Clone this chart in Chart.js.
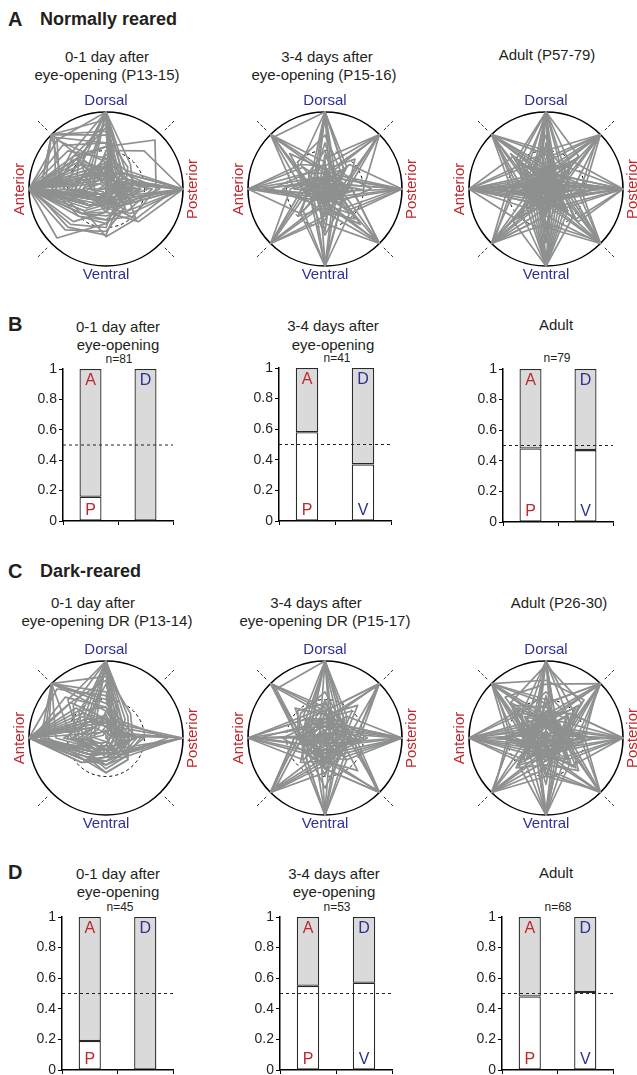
<!DOCTYPE html>
<html>
<head>
<meta charset="utf-8">
<script src="https://cdn.jsdelivr.net/npm/chart.js@4.4.0/dist/chart.umd.min.js"></script>
<style>
  html, body { margin: 0; padding: 0; background: #fff; }
  #page { position: relative; width: 637px; height: 1075px; overflow: hidden;
          font-family: "Liberation Sans", Arial, sans-serif; color: #231f20; }
  #page canvas { position: absolute; }
  .t { position: absolute; transform: translate(-50%, -50%); white-space: nowrap; font-size: 15px; line-height: 1; }
  .n { font-size: 12px; }
  .h { position: absolute; transform: translateY(-50%); white-space: nowrap; font-weight: bold; font-size: 18px; line-height: 1; }
  .hl { font-size: 20px; }
</style>
</head>
<body>
<div id="page">
  <div class="h hl" style="left:8px;top:19px">A</div>
  <div class="h" style="left:40px;top:19px">Normally reared</div>
  <div class="t" style="left:107px;top:56px">0-1 day after</div>
  <div class="t" style="left:107px;top:74px">eye-opening (P13-15)</div>
  <div class="t" style="left:327px;top:56px">3-4 days after</div>
  <div class="t" style="left:324px;top:74px">eye-opening (P15-16)</div>
  <div class="t" style="left:547px;top:54px">Adult (P57-79)</div>

  <div class="h hl" style="left:8px;top:324px">B</div>
  <div class="t" style="left:118px;top:326px">0-1 day after</div>
  <div class="t" style="left:118px;top:344px">eye-opening</div>
  <div class="t n" style="left:119px;top:359px">n=81</div>
  <div class="t" style="left:333px;top:325px">3-4 days after</div>
  <div class="t" style="left:333px;top:344px">eye-opening</div>
  <div class="t n" style="left:337px;top:358px">n=41</div>
  <div class="t" style="left:556px;top:324px">Adult</div>
  <div class="t n" style="left:557px;top:358px">n=79</div>

  <div class="h hl" style="left:8px;top:571px">C</div>
  <div class="h" style="left:40px;top:571px">Dark-reared</div>
  <div class="t" style="left:93px;top:602px">0-1 day after</div>
  <div class="t" style="left:107px;top:620px">eye-opening DR (P13-14)</div>
  <div class="t" style="left:316px;top:602px">3-4 days after</div>
  <div class="t" style="left:325px;top:620px">eye-opening DR (P15-17)</div>
  <div class="t" style="left:559px;top:602px">Adult (P26-30)</div>

  <div class="h hl" style="left:8px;top:872px">D</div>
  <div class="t" style="left:118px;top:873px">0-1 day after</div>
  <div class="t" style="left:118px;top:891px">eye-opening</div>
  <div class="t n" style="left:120px;top:907px">n=45</div>
  <div class="t" style="left:334px;top:873px">3-4 days after</div>
  <div class="t" style="left:334px;top:891px">eye-opening</div>
  <div class="t n" style="left:337px;top:907px">n=53</div>
  <div class="t" style="left:556px;top:872px">Adult</div>
  <div class="t n" style="left:558px;top:907px">n=68</div>
</div>
<script>
// directions clockwise from the top of each polar plot
const directions = ['Dorsal', 'DP', 'Posterior', 'PV', 'Ventral', 'VA', 'Anterior', 'AD'];

// normalised tuning curves [D, DP, P, PV, V, VA, A, AD]
const curvesA1 = [
  [1.0,0.20,0.15,0.10,0.15,0.20,0.70,0.65],
  [0.80,0.15,0.25,0.10,0.15,0.30,1.0,0.55],
  [0.30,0.10,1.0,0.30,0.20,0.10,0.40,0.35],
  [0.15,0.10,0.20,0.15,0.25,0.45,1.0,0.40],
  [0.90,0.25,0.10,0.05,0.10,0.15,0.55,1.0],
  [0.35,0.30,1.0,0.45,0.25,0.15,0.30,0.15],
  [0.10,0.05,0.15,0.10,0.30,0.60,1.0,0.35],
  [1.0,0.45,0.35,0.15,0.10,0.05,0.20,0.45],
  [0.55,0.90,0.65,0.50,0.40,0.45,0.65,0.60],
  [0.20,0.15,0.30,0.25,0.45,0.90,1.0,0.25],
  [0.60,0.15,0.10,0.10,0.15,0.30,1.0,0.80],
  [0.30,0.20,0.95,0.25,0.15,0.10,1.0,0.20],
  [1.0,0.10,0.05,0.05,0.05,0.10,0.40,0.50],
  [0.15,0.10,0.25,0.55,0.62,0.40,1.0,0.15],
  [0.40,0.15,1.0,0.20,0.10,0.10,0.50,0.30],
  [0.25,0.10,0.20,0.25,0.60,0.70,0.95,0.45],
  [0.70,0.40,0.25,0.15,0.20,0.30,0.85,1.0],
  [0.10,0.05,0.35,0.20,0.10,0.25,1.0,0.45],
  [1.0,0.35,0.45,0.20,0.10,0.15,0.30,0.25],
  [0.20,0.30,1.0,0.40,0.15,0.05,0.25,0.10],
  [0.35,0.15,0.15,0.35,0.55,0.75,1.0,0.30],
  [0.85,0.20,0.15,0.05,0.10,0.20,1.0,0.60],
  [0.15,0.10,0.40,0.25,0.20,0.15,0.80,1.0],
  [0.55,0.30,0.35,0.30,0.40,0.50,0.70,0.55],
  [0.30,0.15,0.90,0.55,0.20,0.15,1.0,0.25],
  [1.0,0.15,0.20,0.10,0.05,0.10,0.60,0.90],
  [0.05,0.05,0.30,0.15,0.15,0.35,1.0,0.55],
  [0.50,0.70,1.0,0.30,0.15,0.10,0.20,0.20],
  [0.25,0.10,0.15,0.10,0.20,0.30,1.0,0.15],
  [0.95,0.30,0.20,0.15,0.10,0.20,0.45,0.35],
  [0.20,0.20,1.0,0.15,0.10,0.15,0.35,0.30],
  [0.40,0.20,0.30,0.20,0.30,0.45,1.0,0.70],
  [1.0,0.30,0.05,0.00,0.05,0.10,0.55,0.50],
  [0.05,0.00,0.20,0.10,0.15,0.30,1.0,0.30],
  [0.10,0.15,1.0,0.20,0.05,0.00,0.10,0.05],
  [0.35,0.10,0.05,0.10,0.20,0.40,1.0,0.90],
  [0.00,0.10,0.45,0.30,0.25,0.20,1.0,0.10],
  [0.60,0.25,0.55,0.20,0.15,0.30,0.65,0.95],
  [0.20,0.05,0.10,0.35,0.45,0.50,1.0,0.50],
  [1.0,0.05,0.00,0.05,0.10,0.00,0.20,0.30],
  [0.15,0.30,0.70,0.30,0.25,0.20,1.0,0.35],
  [0.45,0.35,1.0,0.60,0.30,0.20,0.15,0.25],
  [0.10,0.10,0.25,0.20,0.50,0.65,1.0,0.20],
  [0.75,0.10,0.25,0.15,0.05,0.20,0.85,1.0],
  [0.25,0.15,0.60,0.40,0.35,0.45,1.0,0.55],
  [0.30,0.00,0.15,0.05,0.10,0.15,1.0,0.25]
];
const curvesA2 = [
  [1.0,0.15,0.10,0.05,0.25,0.10,0.15,0.25],
  [0.15,1.0,0.20,0.10,0.05,0.10,0.15,0.10],
  [0.15,0.25,1.0,0.15,0.10,0.05,0.30,0.10],
  [0.10,0.15,0.20,1.0,0.15,0.10,0.10,0.05],
  [0.30,0.10,0.10,0.20,1.0,0.20,0.10,0.05],
  [0.10,0.05,0.10,0.10,0.20,1.0,0.25,0.15],
  [0.20,0.10,0.45,0.15,0.10,0.15,1.0,0.30],
  [0.25,0.10,0.10,0.05,0.10,0.15,0.30,1.0],
  [1.0,0.35,0.10,0.10,0.55,0.15,0.10,0.20],
  [0.15,0.10,1.0,0.20,0.10,0.10,0.80,0.15],
  [0.45,0.20,0.10,0.15,1.0,0.25,0.10,0.10],
  [0.10,0.20,0.95,0.35,0.10,0.10,1.0,0.20],
  [0.20,0.95,0.25,0.10,0.10,0.20,0.15,0.10],
  [0.10,0.10,0.15,0.20,0.15,0.95,0.20,0.10],
  [0.10,0.15,0.10,0.95,0.20,0.15,0.10,0.20],
  [0.20,0.10,0.10,0.15,0.20,0.10,0.15,0.95],
  [1.0,0.20,0.30,0.15,0.10,0.05,0.40,0.15],
  [0.10,0.20,1.0,0.45,0.20,0.10,0.15,0.05],
  [0.20,0.10,0.20,0.30,1.0,0.45,0.20,0.10],
  [0.30,0.15,0.25,0.10,0.05,0.20,1.0,0.45],
  [0.30,1.0,0.50,0.10,0.05,0.10,0.20,0.30],
  [0.15,0.20,0.35,1.0,0.45,0.15,0.10,0.05],
  [0.10,0.05,0.15,0.20,0.40,1.0,0.45,0.20],
  [1.0,0.35,0.15,0.10,0.35,0.15,0.20,0.95],
  [0.05,0.10,0.05,0.10,0.15,0.10,1.0,0.10],
  [0.15,0.10,1.0,0.05,0.05,0.10,0.10,0.20],
  [0.95,0.10,0.20,0.05,0.10,0.20,0.30,0.15],
  [0.10,0.40,0.15,0.55,0.30,0.10,0.20,0.15],
  [0.60,0.20,0.15,0.10,0.05,0.25,0.55,0.20],
  [0.15,0.05,0.20,0.30,0.95,0.10,0.05,0.15],
  [1.0,0.40,0.05,0.00,0.10,0.00,0.05,0.45],
  [0.05,0.45,1.0,0.40,0.00,0.05,0.00,0.10],
  [0.00,0.05,0.10,0.45,1.0,0.40,0.05,0.00],
  [0.10,0.00,0.05,0.05,0.00,0.45,1.0,0.40],
  [0.40,1.0,0.30,0.00,0.05,0.00,0.10,0.00],
  [0.00,0.10,0.35,1.0,0.30,0.05,0.00,0.05],
  [0.05,0.00,0.10,0.00,0.35,1.0,0.30,0.10],
  [0.35,0.05,0.00,0.10,0.00,0.05,0.40,1.0],
  [0.70,0.30,0.60,0.25,0.15,0.20,0.30,0.50],
  [0.20,0.35,0.15,0.65,0.25,0.50,0.20,0.30],
  [0.50,0.20,0.25,0.30,0.60,0.25,0.70,0.30],
  [0.25,0.55,0.30,0.20,0.35,0.25,0.20,0.65]
];
const curvesA3 = [
  [1.0,0.10,0.05,0.15,0.30,0.10,0.05,0.20],
  [1.0,0.35,0.10,0.05,0.10,0.05,0.15,0.25],
  [1.0,0.15,0.20,0.10,0.70,0.15,0.10,0.10],
  [0.95,0.20,0.10,0.20,0.15,0.25,0.20,0.40],
  [1.0,0.05,0.25,0.10,0.05,0.10,0.30,0.15],
  [0.25,1.0,0.20,0.10,0.15,0.20,0.10,0.05],
  [0.40,1.0,0.35,0.15,0.10,0.45,0.15,0.10],
  [0.15,1.0,0.15,0.20,0.05,0.10,0.20,0.15],
  [0.20,0.95,0.45,0.10,0.20,0.15,0.05,0.25],
  [0.10,0.60,0.10,0.05,0.10,0.15,0.10,0.05],
  [0.15,0.25,1.0,0.20,0.10,0.05,0.20,0.10],
  [0.10,0.15,1.0,0.35,0.15,0.10,0.65,0.15],
  [0.20,0.10,1.0,0.15,0.25,0.15,0.10,0.20],
  [0.30,0.40,1.0,0.30,0.10,0.15,0.25,0.05],
  [0.05,0.15,0.95,0.20,0.15,0.25,0.15,0.10],
  [0.10,0.15,0.25,1.0,0.20,0.10,0.15,0.20],
  [0.15,0.10,0.40,1.0,0.35,0.15,0.10,0.45],
  [0.20,0.05,0.15,1.0,0.15,0.20,0.05,0.10],
  [0.10,0.20,0.20,0.95,0.45,0.10,0.15,0.15],
  [0.25,0.10,0.15,0.20,1.0,0.15,0.10,0.05],
  [0.60,0.15,0.10,0.30,1.0,0.25,0.15,0.10],
  [0.10,0.20,0.05,0.15,1.0,0.35,0.20,0.15],
  [0.15,0.10,0.20,0.10,0.95,0.10,0.25,0.20],
  [0.05,0.15,0.10,0.40,1.0,0.20,0.05,0.15],
  [0.15,0.20,0.10,0.15,0.25,1.0,0.20,0.10],
  [0.10,0.45,0.15,0.10,0.35,1.0,0.40,0.15],
  [0.20,0.10,0.15,0.05,0.15,1.0,0.10,0.20],
  [0.15,0.15,0.20,0.20,0.10,0.95,0.45,0.10],
  [0.20,0.15,0.25,0.10,0.15,0.20,1.0,0.25],
  [0.15,0.10,0.70,0.15,0.10,0.35,1.0,0.20],
  [0.25,0.20,0.10,0.20,0.25,0.15,1.0,0.40],
  [0.10,0.05,0.15,0.10,0.20,0.10,0.95,0.15],
  [0.30,0.20,0.20,0.15,0.10,0.25,1.0,0.10],
  [0.25,0.10,0.15,0.20,0.10,0.15,0.20,1.0],
  [0.45,0.15,0.10,0.35,0.15,0.10,0.35,1.0],
  [0.15,0.20,0.05,0.15,0.20,0.10,0.15,1.0],
  [0.20,0.10,0.20,0.10,0.15,0.20,0.40,0.95],
  [0.10,0.05,0.10,0.15,0.05,0.10,0.15,0.65],
  [0.70,0.20,0.15,0.10,0.65,0.15,0.10,0.25],
  [0.15,0.10,0.65,0.20,0.10,0.15,0.70,0.10],
  [1.0,0.45,0.25,0.00,0.10,0.05,0.30,0.50],
  [0.50,1.0,0.50,0.20,0.00,0.10,0.05,0.30],
  [0.20,0.50,1.0,0.55,0.15,0.00,0.10,0.05],
  [0.05,0.25,0.45,1.0,0.50,0.20,0.00,0.10],
  [0.10,0.00,0.20,0.50,1.0,0.45,0.15,0.05],
  [0.00,0.10,0.05,0.25,0.45,1.0,0.50,0.20],
  [0.25,0.05,0.00,0.10,0.20,0.55,1.0,0.45],
  [0.50,0.20,0.05,0.00,0.05,0.20,0.45,1.0],
  [1.0,0.30,0.00,0.05,0.00,0.05,0.05,0.35],
  [0.00,0.05,1.0,0.05,0.00,0.05,0.00,0.05],
  [0.05,0.00,0.05,0.35,1.0,0.30,0.00,0.00],
  [0.00,0.05,0.00,0.05,0.00,0.05,1.0,0.05],
  [0.35,1.0,0.05,0.00,0.05,0.00,0.05,0.00],
  [0.00,0.00,0.30,1.0,0.05,0.00,0.05,0.00],
  [0.05,0.00,0.00,0.05,0.35,1.0,0.05,0.00],
  [0.30,0.00,0.05,0.00,0.00,0.05,0.30,1.0],
  [1.0,0.60,0.10,0.20,0.30,0.15,0.25,0.55],
  [0.15,0.25,1.0,0.60,0.10,0.20,0.30,0.15],
  [0.25,0.15,0.20,0.25,1.0,0.60,0.10,0.20],
  [0.10,0.20,0.25,0.15,0.20,0.25,1.0,0.60],
  [0.55,0.35,0.30,0.10,0.55,0.10,0.25,0.35],
  [0.20,0.55,0.15,0.40,0.20,0.50,0.20,0.45],
  [0.30,0.25,0.60,0.20,0.25,0.20,0.55,0.25],
  [0.45,0.30,0.20,0.55,0.15,0.30,0.10,0.50]
];
const curvesC1 = [
  [1.0,0.15,0.25,0.15,0.10,0.20,0.50,0.45],
  [0.75,0.15,0.20,0.20,0.15,0.25,1.0,0.65],
  [0.30,0.10,1.0,0.30,0.20,0.25,0.45,0.20],
  [0.20,0.15,0.30,0.25,0.30,0.40,1.0,0.35],
  [0.50,0.20,0.15,0.15,0.10,0.20,0.65,1.0],
  [1.0,0.35,0.20,0.20,0.15,0.15,0.25,0.40],
  [0.25,0.20,0.95,0.35,0.25,0.20,0.35,0.20],
  [0.15,0.10,0.25,0.20,0.25,0.45,1.0,0.30],
  [0.45,0.30,0.20,0.15,0.20,0.30,0.85,1.0],
  [0.95,0.10,0.15,0.10,0.15,0.20,0.40,0.35],
  [0.20,0.15,0.40,0.30,0.35,0.40,1.0,0.25],
  [0.35,0.25,1.0,0.25,0.15,0.15,0.30,0.15],
  [0.25,0.10,0.20,0.40,0.45,0.35,1.0,0.45],
  [1.0,0.40,0.30,0.20,0.10,0.15,0.20,0.25],
  [0.15,0.20,0.35,0.25,0.20,0.25,1.0,0.55],
  [0.60,0.20,0.20,0.15,0.15,0.25,0.80,1.0],
  [0.30,0.15,0.15,0.35,0.40,0.30,1.0,0.20],
  [0.70,0.25,0.10,0.10,0.15,0.20,1.0,0.35],
  [0.20,0.30,0.80,0.30,0.20,0.25,1.0,0.30],
  [0.40,0.20,0.25,0.25,0.25,0.40,0.95,0.75],
  [0.25,0.10,0.30,0.20,0.15,0.20,1.0,0.35],
  [0.85,0.45,0.35,0.25,0.15,0.15,0.30,0.50],
  [0.20,0.15,0.45,0.35,0.35,0.30,1.0,0.25],
  [0.35,0.20,0.20,0.20,0.25,0.40,0.75,1.0],
  [1.0,0.20,0.10,0.10,0.05,0.10,0.35,0.70],
  [0.10,0.05,0.20,0.15,0.20,0.30,1.0,0.10],
  [0.15,0.10,1.0,0.20,0.15,0.10,0.25,0.10],
  [0.90,0.10,0.05,0.05,0.10,0.15,0.55,0.30],
  [1.0,0.25,0.00,0.05,0.05,0.10,0.40,0.60],
  [0.05,0.00,0.15,0.15,0.20,0.35,1.0,0.20],
  [0.10,0.05,1.0,0.25,0.20,0.15,0.20,0.05],
  [0.55,0.15,0.10,0.10,0.20,0.30,1.0,0.90],
  [0.30,0.10,0.50,0.30,0.30,0.45,1.0,0.30],
  [0.80,0.30,0.05,0.05,0.10,0.15,0.45,1.0],
  [0.15,0.20,0.30,0.40,0.45,0.40,1.0,0.40],
  [1.0,0.30,0.40,0.15,0.05,0.05,0.15,0.20],
  [0.25,0.05,0.20,0.30,0.30,0.35,0.95,0.65],
  [0.40,0.25,0.35,0.20,0.15,0.25,1.0,0.50]
];
const curvesC2 = [
  [1.0,0.15,0.20,0.10,0.30,0.15,0.20,0.25],
  [0.20,1.0,0.30,0.15,0.10,0.20,0.15,0.20],
  [0.15,0.25,1.0,0.25,0.15,0.10,0.40,0.15],
  [0.10,0.20,0.30,1.0,0.25,0.15,0.10,0.10],
  [0.35,0.15,0.10,0.25,1.0,0.20,0.15,0.10],
  [0.15,0.10,0.20,0.15,0.30,1.0,0.35,0.20],
  [0.20,0.15,0.50,0.20,0.15,0.25,1.0,0.35],
  [0.35,0.20,0.15,0.10,0.15,0.25,0.30,1.0],
  [1.0,0.35,0.20,0.15,0.50,0.20,0.15,0.30],
  [0.15,0.15,1.0,0.30,0.20,0.15,0.85,0.25],
  [0.50,0.20,0.15,0.20,1.0,0.35,0.20,0.15],
  [0.25,0.95,0.40,0.20,0.15,0.25,0.20,0.35],
  [0.20,0.15,0.25,0.30,0.25,0.95,0.40,0.15],
  [0.15,0.25,0.35,0.95,0.30,0.20,0.15,0.20],
  [0.30,0.20,0.15,0.20,0.15,0.25,0.35,0.95],
  [1.0,0.30,0.35,0.20,0.20,0.15,0.40,0.25],
  [0.20,0.25,1.0,0.40,0.25,0.20,0.25,0.15],
  [0.25,0.20,0.30,0.35,1.0,0.40,0.30,0.20],
  [0.40,0.25,0.35,0.20,0.15,0.30,1.0,0.40],
  [0.35,1.0,0.45,0.20,0.15,0.20,0.30,0.35],
  [0.25,0.30,0.40,1.0,0.40,0.25,0.20,0.15],
  [0.20,0.15,0.25,0.30,0.45,1.0,0.40,0.25],
  [1.0,0.40,0.25,0.20,0.30,0.25,0.30,0.90],
  [0.15,0.20,0.10,0.15,0.20,0.15,1.0,0.20],
  [0.25,0.20,1.0,0.15,0.10,0.20,0.20,0.25],
  [0.45,0.30,0.25,0.25,0.35,0.30,0.35,0.50],
  [0.95,0.25,0.15,0.20,0.35,0.20,0.25,0.35],
  [0.20,0.35,0.25,0.20,0.15,0.90,0.30,0.20],
  [0.10,0.05,0.15,0.10,0.95,0.10,0.10,0.05],
  [0.05,0.10,0.95,0.10,0.05,0.10,0.15,0.10],
  [1.0,0.35,0.05,0.00,0.10,0.05,0.10,0.40],
  [0.10,0.40,1.0,0.35,0.05,0.00,0.05,0.10],
  [0.00,0.10,0.05,0.40,1.0,0.35,0.10,0.05],
  [0.10,0.05,0.00,0.10,0.05,0.40,1.0,0.35],
  [0.35,1.0,0.40,0.05,0.00,0.10,0.05,0.10],
  [0.05,0.10,0.35,1.0,0.40,0.10,0.00,0.05],
  [0.10,0.00,0.10,0.05,0.35,1.0,0.40,0.05],
  [0.40,0.10,0.00,0.05,0.10,0.05,0.35,1.0],
  [0.60,0.30,0.55,0.25,0.20,0.25,0.35,0.45],
  [0.25,0.50,0.20,0.60,0.30,0.45,0.25,0.30],
  [0.45,0.25,0.30,0.30,0.65,0.30,0.55,0.25],
  [0.30,0.60,0.25,0.25,0.40,0.30,0.25,0.55],
  [1.0,0.10,0.05,0.05,0.00,0.05,0.00,0.10],
  [0.05,0.00,0.10,0.00,0.05,0.00,1.0,0.05]
];
const curvesC3 = [
  [1.0,0.15,0.10,0.20,0.25,0.15,0.10,0.20],
  [1.0,0.40,0.15,0.10,0.15,0.10,0.20,0.35],
  [1.0,0.20,0.15,0.15,0.60,0.20,0.15,0.15],
  [0.95,0.65,0.20,0.15,0.20,0.15,0.25,0.65],
  [1.0,0.10,0.20,0.15,0.10,0.15,0.25,0.20],
  [0.30,1.0,0.25,0.15,0.20,0.25,0.15,0.10],
  [0.45,1.0,0.40,0.20,0.15,0.35,0.20,0.15],
  [0.20,1.0,0.20,0.15,0.10,0.15,0.25,0.20],
  [0.25,0.95,0.50,0.15,0.25,0.20,0.10,0.30],
  [0.70,1.0,0.30,0.10,0.15,0.20,0.15,0.75],
  [0.20,0.30,1.0,0.25,0.15,0.10,0.25,0.15],
  [0.15,0.20,1.0,0.40,0.20,0.15,0.60,0.20],
  [0.25,0.15,1.0,0.20,0.30,0.20,0.15,0.25],
  [0.35,0.45,1.0,0.35,0.15,0.20,0.30,0.10],
  [0.15,0.20,0.30,1.0,0.25,0.15,0.20,0.25],
  [0.20,0.15,0.45,1.0,0.40,0.20,0.15,0.40],
  [0.25,0.10,0.20,1.0,0.20,0.25,0.10,0.15],
  [0.15,0.25,0.25,0.95,0.50,0.15,0.20,0.20],
  [0.30,0.15,0.20,0.25,1.0,0.20,0.15,0.10],
  [0.55,0.20,0.15,0.35,1.0,0.30,0.20,0.15],
  [0.15,0.25,0.10,0.20,1.0,0.40,0.25,0.20],
  [0.20,0.15,0.25,0.15,0.95,0.15,0.30,0.25],
  [0.20,0.25,0.15,0.20,0.30,1.0,0.25,0.15],
  [0.15,0.40,0.20,0.15,0.40,1.0,0.45,0.20],
  [0.25,0.15,0.20,0.10,0.20,1.0,0.15,0.25],
  [0.20,0.20,0.25,0.25,0.15,0.95,0.50,0.15],
  [0.25,0.20,0.30,0.15,0.20,0.25,1.0,0.30],
  [0.20,0.15,0.60,0.20,0.15,0.40,1.0,0.25],
  [0.30,0.25,0.15,0.25,0.30,0.20,1.0,0.45],
  [0.15,0.10,0.20,0.15,0.25,0.15,0.95,0.20],
  [0.35,0.25,0.25,0.20,0.15,0.30,1.0,0.15],
  [0.30,0.15,0.20,0.25,0.15,0.20,0.25,1.0],
  [0.50,0.20,0.15,0.40,0.20,0.15,0.40,1.0],
  [0.20,0.25,0.10,0.20,0.25,0.15,0.20,1.0],
  [0.25,0.15,0.25,0.15,0.20,0.25,0.45,0.95],
  [0.75,0.70,0.20,0.15,0.10,0.20,0.30,1.0],
  [0.10,0.05,0.10,0.05,0.10,0.05,0.10,0.05],
  [0.15,0.10,0.70,0.15,0.10,0.10,0.65,0.10],
  [1.0,0.50,0.20,0.05,0.15,0.00,0.25,0.45],
  [0.45,1.0,0.45,0.15,0.05,0.10,0.00,0.35],
  [0.15,0.45,1.0,0.50,0.20,0.05,0.10,0.00],
  [0.00,0.20,0.50,1.0,0.45,0.15,0.05,0.10],
  [0.10,0.05,0.15,0.45,1.0,0.50,0.20,0.00],
  [0.05,0.10,0.00,0.20,0.50,1.0,0.45,0.15],
  [0.20,0.00,0.05,0.10,0.15,0.45,1.0,0.50],
  [0.45,0.15,0.00,0.05,0.05,0.20,0.50,1.0],
  [1.0,0.20,0.00,0.05,0.00,0.05,0.00,0.25],
  [0.00,0.05,1.0,0.05,0.00,0.00,0.05,0.05],
  [0.05,0.00,0.05,0.25,1.0,0.20,0.00,0.05],
  [0.05,0.05,0.00,0.00,0.05,0.05,1.0,0.05],
  [0.60,0.40,0.35,0.15,0.50,0.20,0.30,0.45],
  [0.25,0.55,0.20,0.45,0.25,0.50,0.15,0.55],
  [0.35,0.20,0.60,0.25,0.30,0.25,0.55,0.20],
  [0.40,0.35,0.25,0.55,0.20,0.35,0.15,0.60],
  [0.20,0.60,0.30,0.20,0.25,0.20,0.30,0.65],
  [0.15,0.25,0.30,0.60,0.35,0.55,0.20,0.25]
];

// fraction of cells preferring posterior / ventral (white part of each bar)
const barCategories = ['A/P', 'D/V'];
const fracB1 = [0.16, 0.0];
const fracB2 = [0.58, 0.37];
const fracB3 = [0.48, 0.47];
const fracD1 = [0.19, 0.0];
const fracD2 = [0.55, 0.57];
const fracD3 = [0.48, 0.51];
const topLetters = ['A', 'D'];
const bottomFull = ['P', 'V'];
const bottomNoV = ['P', ''];
const yTicks = [0, 0.2, 0.4, 0.6, 0.8, 1];
const chanceLevel = 0.5;

const FONT = '"Liberation Sans", Arial, sans-serif';
const RED = '#c1272d';
const BLUE = '#2e3192';
Chart.defaults.font.family = FONT;
const page = document.getElementById('page');

const polarDeco = {
  id: 'polarDeco',
  afterDraw(chart) {
    const r = chart.scales.r;
    const ctx = chart.ctx;
    ctx.save();
    ctx.strokeStyle = '#333';
    ctx.lineWidth = 1;
    ctx.setLineDash([3, 2]);
    [1, 3, 5, 7].forEach(i => {
      const a = r.getPointPositionForValue(i, 1.08);
      const b = r.getPointPositionForValue(i, 1.26);
      ctx.beginPath();
      ctx.moveTo(a.x, a.y);
      ctx.lineTo(b.x, b.y);
      ctx.stroke();
    });
    ctx.setLineDash([]);
    ctx.font = '15px ' + FONT;
    ctx.textAlign = 'center';
    ctx.textBaseline = 'middle';
    const labels = [
      { i: 0, d: 1.15, c: BLUE, rot: false },
      { i: 2, d: 1.13, c: RED, rot: true },
      { i: 4, d: 1.12, c: BLUE, rot: false },
      { i: 6, d: 1.12, c: RED, rot: true }
    ];
    labels.forEach(l => {
      const p = r.getPointPositionForValue(l.i, l.d);
      ctx.save();
      ctx.translate(p.x, p.y);
      if (l.rot) ctx.rotate(-Math.PI / 2);
      ctx.fillStyle = l.c;
      ctx.fillText(directions[l.i], 0, 0);
      ctx.restore();
    });
    ctx.restore();
  }
};

function makePolar(cx, cy, curves) {
  const cv = document.createElement('canvas');
  cv.width = 212;
  cv.height = 200;
  cv.style.left = (cx - 106) + 'px';
  cv.style.top = (cy - 100) + 'px';
  page.appendChild(cv);
  new Chart(cv, {
    type: 'radar',
    data: {
      labels: directions,
      datasets: curves.map(c => ({
        data: c,
        borderColor: '#8e908f',
        borderWidth: 1.7,
        borderJoinStyle: 'round',
        fill: false,
        pointRadius: 0,
        tension: 0
      }))
    },
    options: {
      responsive: false,
      animation: false,
      layout: { padding: { left: 29, right: 29, top: 23, bottom: 23 } },
      plugins: { legend: { display: false }, tooltip: { enabled: false } },
      scales: {
        r: {
          min: 0,
          max: 1,
          ticks: { display: false, stepSize: 0.5 },
          pointLabels: { display: false },
          angleLines: { display: false },
          grid: {
            circular: true,
            color: '#000',
            lineWidth: ctx => (ctx.tick && ctx.tick.value === 1 ? 1.6 : 1)
          },
          border: { dash: ctx => (ctx.tick && ctx.tick.value === 0.5 ? [3, 3] : []) }
        }
      }
    },
    plugins: [polarDeco]
  });
}

const barDeco = {
  id: 'barDeco',
  afterDatasetsDraw(chart, args, opts) {
    const ctx = chart.ctx;
    const area = chart.chartArea;
    const y = chart.scales.y;
    const yy = y.getPixelForValue(chanceLevel);
    ctx.save();
    ctx.strokeStyle = '#222';
    ctx.lineWidth = 1;
    ctx.setLineDash([3, 3]);
    ctx.beginPath();
    ctx.moveTo(area.left, yy);
    ctx.lineTo(area.right, yy);
    ctx.stroke();
    ctx.setLineDash([]);
    ctx.font = '16px ' + FONT;
    ctx.textAlign = 'center';
    ctx.textBaseline = 'middle';
    const colors = [RED, BLUE];
    chart.getDatasetMeta(0).data.forEach((bar, i) => {
      ctx.fillStyle = colors[i];
      ctx.fillText(topLetters[i], bar.x, y.getPixelForValue(0.925));
      if (opts.bottoms[i]) ctx.fillText(opts.bottoms[i], bar.x, y.getPixelForValue(0.07));
    });
    ctx.restore();
  }
};

function makeBars(x0, x1, yTop, yBot, frac, bottoms) {
  const padTop = 12, axisW = 40, axisH = 10, padRight = 8, padBottom = 2;
  const cv = document.createElement('canvas');
  cv.width = axisW + (x1 - x0) + padRight;
  cv.height = padTop + (yBot - yTop) + axisH + padBottom;
  cv.style.left = (x0 - axisW) + 'px';
  cv.style.top = (yTop - padTop) + 'px';
  page.appendChild(cv);
  const barStyle = { borderColor: '#2a2a2a', borderWidth: 1.3, borderSkipped: false, barPercentage: 0.4, categoryPercentage: 1 };
  new Chart(cv, {
    type: 'bar',
    data: {
      labels: barCategories,
      datasets: [
        Object.assign({ data: frac, backgroundColor: '#ffffff' }, barStyle),
        Object.assign({ data: frac.map(v => 1 - v), backgroundColor: '#d9dad9' }, barStyle)
      ]
    },
    options: {
      responsive: false,
      animation: false,
      layout: { padding: { top: padTop, right: padRight, bottom: padBottom, left: 0 } },
      plugins: { legend: { display: false }, tooltip: { enabled: false }, barDeco: { bottoms } },
      scales: {
        x: {
          stacked: true,
          ticks: { display: false },
          grid: { drawOnChartArea: false, drawTicks: true, tickLength: 4, color: '#000', lineWidth: 1 },
          border: { color: '#000', width: 1.5 },
          afterFit: s => { s.height = axisH; s.paddingLeft = 0; s.paddingRight = 0; }
        },
        y: {
          stacked: true,
          min: 0,
          max: 1,
          afterBuildTicks: s => { s.ticks = yTicks.map(v => ({ value: v })); },
          ticks: { font: { size: 14 }, color: '#231f20', padding: 2, callback: v => String(v) },
          grid: { drawOnChartArea: false, tickLength: 4, color: '#000', lineWidth: 1 },
          border: { color: '#000', width: 1.5 },
          afterFit: s => { s.width = axisW; s.paddingTop = 0; s.paddingBottom = 0; }
        }
      }
    },
    plugins: [barDeco]
  });
}

makePolar(106, 189, curvesA1);
makePolar(325, 189, curvesA2);
makePolar(546, 189, curvesA3);
makeBars(63, 173, 369, 521, fracB1, bottomNoV);
makeBars(279, 391, 368, 521, fracB2, bottomFull);
makeBars(503, 613, 369, 522, fracB3, bottomFull);
makePolar(106, 738, curvesC1);
makePolar(325, 738, curvesC2);
makePolar(546, 738, curvesC3);
makeBars(62, 173, 917, 1070, fracD1, bottomNoV);
makeBars(280, 392, 917, 1070, fracD2, bottomFull);
makeBars(502, 613, 917, 1070, fracD3, bottomFull);
</script>
</body>
</html>
